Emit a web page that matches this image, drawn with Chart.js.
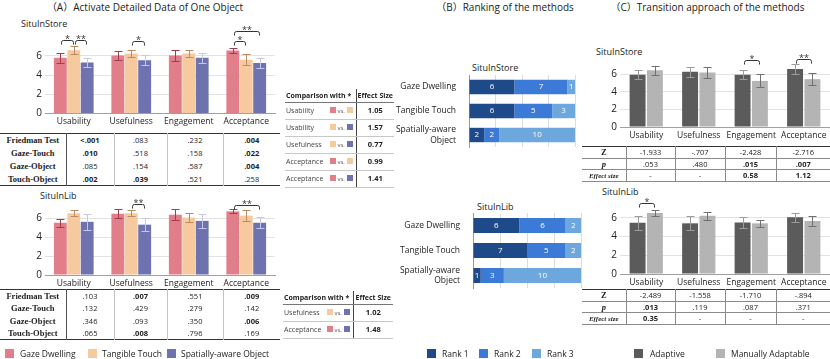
<!DOCTYPE html>
<html>
<head>
<meta charset="utf-8">
<script src="https://cdn.jsdelivr.net/npm/chart.js@4.4.1/dist/chart.umd.min.js"></script>
<style>
  body { margin: 0; background: #fff; }
  #fig { position: relative; width: 830px; height: 359px; overflow: hidden; font-family: 'Open Sans', 'Noto Sans', sans-serif; color: #222; }
  #fig canvas, .txt, table, .key { position: absolute; }
  .title { font-size: 10px; line-height: 12px; top: 1px; text-align: center; font-family: 'Open Sans', 'Noto Sans CJK SC', sans-serif; }
  .sub { font-size: 9px; line-height: 11px; }
  .key { width: 9px; height: 9px; }
  .ktxt { font-size: 8.5px; line-height: 11px; }
  .b { font-weight: bold; }

  .ptab { border-collapse: collapse; table-layout: fixed; width: 280px; border-top: 1.5px solid #333; border-bottom: 1.5px solid #333; font-size: 7.5px; }
  .ptab td { padding: 0; text-align: center; border-left: 1px solid #c4c4c4; line-height: 8px; white-space: nowrap; }
  .ptab td.lab { border-left: none; border-right: 1px solid #555; font-family: 'Liberation Serif', serif; font-weight: bold; font-size: 8.5px; }

  .etab { border-collapse: collapse; table-layout: fixed; font-size: 7px; border-bottom: 1.5px solid #333; }
  .etab td { padding: 0; border-bottom: 1px solid #c8c8c8; white-space: nowrap; line-height: 9px; overflow: hidden; }
  .etab tr.head td { font-weight: bold; border-bottom: 1px solid #777; font-size: 7px; }
  .etab td.es { text-align: center; border-left: 1px solid #444; font-weight: bold; font-size: 7.5px; }
  .etab .row { display: flex; justify-content: space-between; align-items: center; padding: 0 3px 0 1px; color: #444; }
  .etab .vs { font-size: 6px; color: #555; }
  .sq { display: inline-block; width: 6px; height: 6px; vertical-align: -0.5px; }

  .ctab { border-collapse: collapse; table-layout: fixed; width: 248px; font-size: 7.5px; border-top: 1px solid #333; border-bottom: 1.5px solid #333; }
  .ctab td { padding: 0; text-align: center; border: 1px solid #8a8a8a; border-top: none; line-height: 8px; white-space: nowrap; }
  .ctab td:first-child { border-left: none; font-family: 'Liberation Serif', serif; font-weight: bold; font-size: 8.5px; }
  .ctab td:last-child { border-right: none; }
</style>
</head>
<body>
<div id="fig">
  <div class="txt title" style="left:0;width:290px">（A）Activate Detailed Data of One Object</div>
  <div class="txt title" style="left:400px;width:210px">（B）Ranking of the methods</div>
  <div class="txt title" style="left:585px;width:245px">（C）Transition approach of the methods</div>

  <div class="txt sub" style="left:21px;top:18px">SituInStore</div>
  <div class="txt sub" style="left:40px;top:190px">SituInLib</div>
  <div class="txt sub" style="left:472px;top:62px">SituInStore</div>
  <div class="txt sub" style="left:477px;top:201px">SituInLib</div>
  <div class="txt sub" style="left:596px;top:46px">SituInStore</div>
  <div class="txt sub" style="left:602px;top:186px">SituInLib</div>

  <canvas id="aStore" width="280" height="112" style="left:0;top:20px"></canvas>
  <canvas id="aLib" width="280" height="107" style="left:0;top:186px"></canvas>
  <canvas id="bStore" width="190" height="76" style="left:390px;top:74px"></canvas>
  <canvas id="bLib" width="195" height="78" style="left:390px;top:212px"></canvas>
  <canvas id="cStore" width="250" height="105" style="left:580px;top:40px"></canvas>
  <canvas id="cLib" width="250" height="102" style="left:580px;top:190px"></canvas>
</div>
<script>
const measures = ['Usability', 'Usefulness', 'Engagement', 'Acceptance'];
const scoreTicks = [0, 2, 4, 6];

// (A) three interaction methods
const methods = ['Gaze Dwelling', 'Tangible Touch', 'Spatially-aware Object'];
const methodColors = ['#E27E89', '#F6CA9E', '#6E73B0'];
const methodErrColors = ['#A23C4C', '#B88C5E', '#C6C8E6'];

const storeGaze = [5.8, 6.05, 6.05, 6.55];
const storeTouch = [6.6, 6.25, 6.25, 5.6];
const storeObject = [5.3, 5.55, 5.8, 5.25];
const storeGazeErr = [0.55, 0.5, 0.6, 0.3];
const storeTouchErr = [0.45, 0.35, 0.4, 0.55];
const storeObjectErr = [0.45, 0.5, 0.55, 0.55];

const libGaze = [5.5, 6.45, 6.35, 6.7];
const libTouch = [6.5, 6.5, 6.05, 6.25];
const libObject = [5.6, 5.3, 5.7, 5.5];
const libGazeErr = [0.4, 0.5, 0.6, 0.2];
const libTouchErr = [0.3, 0.3, 0.45, 0.6];
const libObjectErr = [0.85, 0.7, 0.75, 0.6];

// significance brackets: [measure, from series, to series, height, stars]
const storeSig = [[0, 0, 1, 7.7, '*'], [0, 1, 2, 7.7, '**'], [1, 1, 2, 7.5, '*'], [3, 0, 1, 7.5, '*'], [3, 0, 2, 8.6, '**']];
const libSig = [[1, 1, 2, 7.5, '**'], [3, 0, 2, 7.4, '**']];

const testNames = ['Friedman Test', 'Gaze-Touch', 'Gaze-Object', 'Touch-Object'];
const storeP = [
    ['<.001', '.083', '.232', '.004'],
    ['.010', '.518', '.158', '.022'],
    ['.085', '.154', '.587', '.004'],
    ['.002', '.039', '.521', '.258']
];
const libP = [
    ['.103', '.007', '.551', '.009'],
    ['.132', '.429', '.279', '.142'],
    ['.346', '.093', '.350', '.006'],
    ['.065', '.008', '.796', '.169']
];
// effect sizes: [measure, method a, method b, value]
const storeEffects = [['Usability', 0, 1, '1.05'], ['Usability', 1, 2, '1.57'], ['Usefulness', 1, 2, '0.77'], ['Acceptance', 0, 1, '0.99'], ['Acceptance', 0, 2, '1.41']];
const libEffects = [['Usefulness', 1, 2, '1.02'], ['Acceptance', 0, 2, '1.48']];

// (B) ranking counts
const rankNames = ['Rank 1', 'Rank 2', 'Rank 3'];
const rankColors = ['#1F4A8A', '#3B7BD7', '#6CA7DD'];
const rankMethods = [['Gaze Dwelling'], ['Tangible Touch'], ['Spatially-aware', 'Object']];
const storeRank1 = [6, 6, 2];
const storeRank2 = [7, 5, 2];
const storeRank3 = [1, 3, 10];
const libRank1 = [6, 7, 1];
const libRank2 = [6, 5, 3];
const libRank3 = [2, 2, 10];

// (C) adaptive vs manual
const modes = ['Adaptive', 'Manually Adaptable'];
const modeColors = ['#5B5B5B', '#B4B4B4'];
const modeErrColors = ['#9C9C9C', '#707070'];
const storeAdaptive = [5.95, 6.3, 5.95, 6.6];
const storeManual = [6.45, 6.2, 5.25, 5.45];
const storeAdaptiveErr = [0.5, 0.55, 0.5, 0.55];
const storeManualErr = [0.5, 0.65, 0.75, 0.65];
const libAdaptive = [5.45, 5.4, 5.5, 6.05];
const libManual = [6.5, 6.2, 5.4, 5.65];
const libAdaptiveErr = [0.75, 0.75, 0.6, 0.5];
const libManualErr = [0.3, 0.45, 0.4, 0.5];
const storeModeSig = [[2, 0, 1, 7.6, '*'], [3, 0, 1, 7.7, '**']];
const libModeSig = [[0, 0, 1, 7.6, '*']];
const storeZ = ['-1.933', '-.707', '-2.428', '-2.716'];
const storeWp = ['.053', '.480', '.015', '.007'];
const storeR = ['-', '-', '0.58', '1.12'];
const libZ = ['-2.489', '-1.558', '-1.710', '-.894'];
const libWp = ['.013', '.119', '.087', '.371'];
const libR = ['0.35', '-', '-', '-'];

Chart.defaults.font.family = "'Open Sans', 'Noto Sans', sans-serif";
Chart.defaults.color = '#222';
Chart.defaults.animation = false;

const fig = document.getElementById('fig');

const errorBars = {
    id: 'errorBars',
    afterDatasetsDraw(chart) {
        const ctx = chart.ctx;
        const y = chart.scales.y;
        chart.data.datasets.forEach((ds, i) => {
            chart.getDatasetMeta(i).data.forEach((bar, j) => {
                const x = Math.round(bar.x) + 0.5;
                const top = Math.round(y.getPixelForValue(ds.data[j] + ds.errors[j])) + 0.5;
                const bot = Math.round(y.getPixelForValue(ds.data[j] - ds.errors[j])) + 0.5;
                ctx.save();
                ctx.strokeStyle = ds.errorColor;
                ctx.lineWidth = 1;
                ctx.beginPath();
                ctx.moveTo(x, top); ctx.lineTo(x, bot);
                ctx.moveTo(x - 4, top); ctx.lineTo(x + 4, top);
                ctx.moveTo(x - 4, bot); ctx.lineTo(x + 4, bot);
                ctx.stroke();
                ctx.restore();
            });
        });
    }
};

function sigPlugin(items) {
    return {
        id: 'sig',
        afterDatasetsDraw(chart) {
            const ctx = chart.ctx;
            ctx.save();
            ctx.strokeStyle = '#333';
            ctx.fillStyle = '#333';
            ctx.lineWidth = 1;
            ctx.font = "9px 'Open Sans'";
            ctx.textAlign = 'center';
            ctx.textBaseline = 'alphabetic';
            items.forEach(([cat, a, b, level, stars]) => {
                const x1 = Math.round(chart.getDatasetMeta(a).data[cat].x) + 1.5;
                const x2 = Math.round(chart.getDatasetMeta(b).data[cat].x) - 0.5;
                const y = Math.round(chart.scales.y.getPixelForValue(level)) + 0.5;
                ctx.beginPath();
                ctx.moveTo(x1, y + 4);
                ctx.arcTo(x1, y, x1 + 2, y, 2);
                ctx.arcTo(x2, y, x2, y + 2, 2);
                ctx.lineTo(x2, y + 4);
                ctx.stroke();
                ctx.fillText(stars, (x1 + x2) / 2, y + 1);
            });
            ctx.restore();
        }
    };
}

function scoreChart(id, series, errs, colors, errColors, sig, yMax, box) {
    new Chart(document.getElementById(id), {
        type: 'bar',
        data: {
            labels: measures,
            datasets: series.map((d, i) => ({
                data: d,
                errors: errs[i],
                errorColor: errColors[i],
                backgroundColor: colors[i],
                categoryPercentage: box.cat,
                barPercentage: box.bar
            }))
        },
        options: {
            responsive: false,
            layout: { padding: { top: box.padTop, right: box.padRight, left: 0, bottom: 0 } },
            plugins: { legend: { display: false }, tooltip: { enabled: false } },
            scales: {
                x: {
                    grid: { display: false, drawTicks: false },
                    border: { color: '#a0a0a0' },
                    ticks: { font: { size: 8.5 }, padding: 3, color: '#222', maxRotation: 0, minRotation: 0, autoSkip: false },
                    afterFit: (s) => { s.height = box.axisH; s.paddingLeft = 0; s.paddingRight = 0; }
                },
                y: {
                    min: 0,
                    max: yMax,
                    afterBuildTicks: (s) => { s.ticks = scoreTicks.map(v => ({ value: v })); },
                    grid: { color: '#e2e2e2', drawTicks: false },
                    border: { display: false },
                    ticks: { font: { size: 10 }, padding: 3, color: '#222' },
                    afterFit: (s) => { s.width = box.axisW; s.paddingTop = 0; s.paddingBottom = 0; }
                }
            }
        },
        plugins: [errorBars, sigPlugin(sig)]
    });
}

const barValues = {
    id: 'barValues',
    afterDatasetsDraw(chart) {
        const ctx = chart.ctx;
        ctx.save();
        ctx.fillStyle = '#fff';
        ctx.font = "8px 'Open Sans'";
        ctx.textAlign = 'center';
        ctx.textBaseline = 'middle';
        chart.data.datasets.forEach((ds, i) => {
            chart.getDatasetMeta(i).data.forEach((bar, j) => {
                ctx.fillText(ds.data[j], (bar.x + bar.base) / 2, bar.y);
            });
        });
        ctx.restore();
    }
};

function rankChart(id, ranks, box) {
    new Chart(document.getElementById(id), {
        type: 'bar',
        data: {
            labels: rankMethods,
            datasets: ranks.map((d, i) => ({
                label: rankNames[i],
                data: d,
                backgroundColor: rankColors[i],
                categoryPercentage: 0.6,
                barPercentage: 1
            }))
        },
        options: {
            indexAxis: 'y',
            responsive: false,
            layout: { padding: { top: box.padTop, right: box.padRight, left: 0, bottom: box.padBottom } },
            plugins: { legend: { display: false }, tooltip: { enabled: false } },
            scales: {
                x: {
                    stacked: true,
                    min: 0,
                    max: 14,
                    ticks: { display: false, stepSize: 3.5 },
                    grid: { color: '#dcdcdc', drawTicks: false },
                    border: { display: false },
                    afterFit: (s) => { s.height = 0; s.paddingLeft = 0; s.paddingRight = 0; }
                },
                y: {
                    stacked: true,
                    grid: { display: false },
                    border: { color: '#999' },
                    ticks: { font: { size: 8.5 }, padding: 5, color: '#222' },
                    afterFit: (s) => { s.width = box.axisW; s.paddingTop = 0; s.paddingBottom = 0; }
                }
            }
        },
        plugins: [barValues]
    });
}

function esc(s) {
    return s.replace('<', '&lt;');
}

function isSig(p) {
    return p.startsWith('<') || parseFloat(p) < 0.05;
}

function pTable(left, top, rowH, rows) {
    let html = `<table class="ptab" style="left:${left}px;top:${top}px"><colgroup>`;
    html += [66, 48, 53, 56, 57].map(w => `<col style="width:${w}px">`).join('') + '</colgroup>';
    rows.forEach((r, i) => {
        html += `<tr style="height:${rowH}px"><td class="lab">${testNames[i]}</td>`;
        html += r.map(p => `<td${isSig(p) ? ' class="b"' : ''}>${esc(p)}</td>`).join('') + '</tr>';
    });
    fig.insertAdjacentHTML('beforeend', html + '</table>');
}

function effectTable(left, top, w1, w2, headH, rowH, rows) {
    let html = `<table class="etab" style="left:${left}px;top:${top}px;width:${w1 + w2}px">`;
    html += `<colgroup><col style="width:${w1}px"><col style="width:${w2}px"></colgroup>`;
    html += `<tr class="head" style="height:${headH}px"><td style="padding-left:1px">Comparison with *</td><td class="es">Effect Size</td></tr>`;
    rows.forEach(([m, a, b, v]) => {
        html += `<tr style="height:${rowH}px"><td><div class="row"><span>${m}</span><span>` +
            `<i class="sq" style="background:${methodColors[a]}"></i><span class="vs"> vs. </span>` +
            `<i class="sq" style="background:${methodColors[b]}"></i></span></div></td><td class="es">${v}</td></tr>`;
    });
    fig.insertAdjacentHTML('beforeend', html + '</table>');
}

function wTable(left, top, rowH, z, p, r) {
    const cols = [44, 49, 50, 51, 54];
    let html = `<table class="ctab" style="left:${left}px;top:${top}px"><colgroup>`;
    html += cols.map(w => `<col style="width:${w}px">`).join('') + '</colgroup>';
    html += `<tr style="height:${rowH}px"><td>Z</td>` + z.map(v => `<td>${v}</td>`).join('') + '</tr>';
    html += `<tr style="height:${rowH}px"><td><i>p</i></td>` + p.map(v => `<td${isSig(v) ? ' class="b"' : ''}>${v}</td>`).join('') + '</tr>';
    html += `<tr style="height:${rowH}px"><td><i style="font-size:7px">Effect size</i></td>` + r.map(v => `<td${v !== '-' ? ' class="b"' : ''}>${v}</td>`).join('') + '</tr>';
    fig.insertAdjacentHTML('beforeend', html + '</table>');
}

function legend(names, colors, keyX, textX, y) {
    names.forEach((n, i) => {
        fig.insertAdjacentHTML('beforeend',
            `<div class="key" style="left:${keyX[i]}px;top:${y}px;background:${colors[i]}"></div>` +
            `<div class="txt ktxt" style="left:${textX[i]}px;top:${y - 1}px">${n}</div>`);
    });
}

// (A)
scoreChart('aStore', [storeGaze, storeTouch, storeObject], [storeGazeErr, storeTouchErr, storeObjectErr],
    methodColors, methodErrColors, storeSig, 9.53, { axisW: 45, axisH: 18.5, padTop: 2, padRight: 5, cat: 0.7, bar: 0.96 });
scoreChart('aLib', [libGaze, libTouch, libObject], [libGazeErr, libTouchErr, libObjectErr],
    methodColors, methodErrColors, libSig, 9.16, { axisW: 45, axisH: 18, padTop: 2, padRight: 5, cat: 0.7, bar: 0.96 });
pTable(0, 133, 13, storeP);
pTable(0, 289, 12.5, libP);
effectTable(285, 89, 71, 38, 13, 17, storeEffects);
effectTable(283, 291, 70, 40, 13, 17, libEffects);
legend(methods, methodColors, [5, 88, 167], [20, 102, 181], 349);

// (B)
rankChart('bStore', [storeRank1, storeRank2, storeRank3], { axisW: 79, padTop: 1, padRight: 5, padBottom: 3 });
rankChart('bLib', [libRank1, libRank2, libRank3], { axisW: 83, padTop: 1, padRight: 4, padBottom: 2 });
legend(rankNames, rankColors, [427, 479, 532], [442, 494, 547], 349);

// (C)
scoreChart('cStore', [storeAdaptive, storeManual], [storeAdaptiveErr, storeManualErr],
    modeColors, modeErrColors, storeModeSig, 9.68, { axisW: 40, axisH: 18, padTop: 2, padRight: 0, cat: 0.66, bar: 0.92 });
scoreChart('cLib', [libAdaptive, libManual], [libAdaptiveErr, libManualErr],
    modeColors, modeErrColors, libModeSig, 8.74, { axisW: 40, axisH: 18, padTop: 2, padRight: 0, cat: 0.66, bar: 0.92 });
wTable(582, 146, 11.5, storeZ, storeWp, storeR);
wTable(582, 289, 11.5, libZ, libWp, libR);
legend(modes, modeColors, [634, 716], [650, 731], 349);
</script>
</body>
</html>
